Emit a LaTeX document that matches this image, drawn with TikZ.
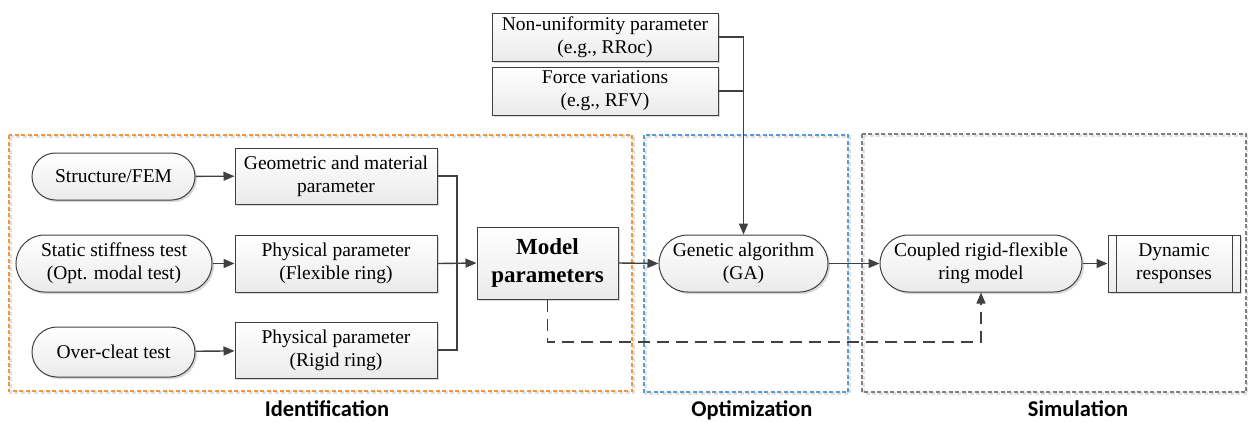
\documentclass[tikz,border=0pt]{standalone}
\usepackage{fontspec}
\setmainfont{LiberationSerif}[Extension=.ttf, UprightFont=*-Regular, BoldFont=*-Bold, ItalicFont=*-Italic, BoldItalicFont=*-BoldItalic]
\newfontfamily\labelfont{Carlito}
\usetikzlibrary{arrows.meta,shadows,calc}
\definecolor{edge}{HTML}{404040}
\definecolor{idorange}{HTML}{F0963C}
\definecolor{optblue}{HTML}{5B9BD5}
\definecolor{simgray}{HTML}{7F7F7F}
\tikzset{
  x=1pt, y=-1pt,
  txt/.style={font=\rmfamily\fontsize{19.5}{23}\selectfont, align=center, inner sep=0pt},
  boxnode/.style={txt, draw=edge, line width=1pt, top color=white, bottom color=gray!16,
    drop shadow={shadow xshift=2pt, shadow yshift=-2pt, fill=black!30, opacity=0.5}},
  pill/.style={boxnode, rounded corners=#1},
  link/.style={draw=edge, line width=1.4pt},
  arr/.style={link, -{Triangle[length=11pt,width=9pt]}},
  group/.style={line width=2.2pt, dash pattern=on 4pt off 2.5pt},
  groupshade/.style={group, black!12, xshift=1.5pt, yshift=-1.5pt},
  caption/.style={font=\labelfont\bfseries\fontsize{22.5}{26}\selectfont, inner sep=0pt, anchor=base}
}
\begin{document}
\begin{tikzpicture}
\useasboundingbox (0,0) rectangle (1248,421);

% stage frames with a faint offset shade
\draw[groupshade] (9,135) rectangle (632,391);
\draw[groupshade] (644,135) rectangle (848,392);
\draw[groupshade] (862,134) rectangle (1246,392);
\draw[group, idorange] (9,135) rectangle (632,391);
\draw[group, optblue] (644,135) rectangle (848,392);
\draw[group, simgray] (862,134) rectangle (1246,392);

\node[caption] (lid) at (327,416) {Identification};
\node[caption] (lopt) at (752,416) {Optimization};
\node[caption] (lsim) at (1078,416) {Simulation};

% identification inputs
\node[pill=23.5pt, minimum width=163pt, minimum height=47pt] (sfem) at (113.5,176.5) {Structure/FEM};
\node[pill=28.5pt, minimum width=196pt, minimum height=57pt] (sst) at (114,263.5) {Static stiffness test\\(Opt. modal test)};
\node[pill=25pt, minimum width=163pt, minimum height=50pt] (oct) at (113.5,352) {Over-cleat test};

\node[boxnode, minimum width=202pt, minimum height=56pt] (geo) at (336,176) {Geometric and material\\parameter};
\node[boxnode, minimum width=202pt, minimum height=57pt] (phf) at (336,263.5) {Physical parameter\\(Flexible ring)};
\node[boxnode, minimum width=202pt, minimum height=56pt] (phr) at (336,350) {Physical parameter\\(Rigid ring)};

\node[boxnode, minimum width=141pt, minimum height=72pt, font=\rmfamily\bfseries\fontsize{23}{28}\selectfont] (mp) at (547.5,263) {Model\\parameters};

% optimization inputs
\node[boxnode, minimum width=226pt, minimum height=48pt] (nu) at (605,37) {Non-uniformity parameter\\(e.g., RRoc)};
\node[boxnode, minimum width=226pt, minimum height=48pt] (fv) at (605,91) {Force variations\\(e.g., RFV)};

\node[pill=28.5pt, minimum width=169pt, minimum height=57pt] (ga) at (743.5,263.5) {Genetic algorithm\\(GA)};
\node[pill=28.5pt, minimum width=202pt, minimum height=57pt] (crf) at (981,263.5) {Coupled rigid-flexible\\ring model};

\node[boxnode, minimum width=132pt, minimum height=57pt] (dr) at (1174,263.5) {Dynamic\\responses};
\draw[edge, line width=1pt] ($(dr.north west)+(9,0)$) -- ($(dr.south west)+(9,0)$);
\draw[edge, line width=1pt] ($(dr.north east)+(-8,0)$) -- ($(dr.south east)+(-8,0)$);

% connectors
\draw[arr] (sfem) -- (geo);
\draw[arr] (sst) -- (phf);
\draw[arr] (oct) -- (phr);

\coordinate (bus) at (457,263.5);
\draw[link] (geo.east) -| (bus);
\draw[link] (phr.east) -| (bus);
\draw[arr] (phf.east) -- (mp.west);

\draw[arr] (mp.east) -- (ga.west);
\draw[arr] (ga.east) -- (crf.west);
\draw[arr] (crf.east) -- (dr.west);

\coordinate (join) at (743.5,91);
\draw[link] (nu.east) -| (join);
\draw[link] (fv.east) -- (join);
\draw[arr] (join) -- (ga.north);

\coordinate (dcorner) at (548,342);
\draw[arr, dash pattern=on 12pt off 7pt] (mp.south) |- (dcorner) -| (crf.south);
\end{tikzpicture}
\end{document}
